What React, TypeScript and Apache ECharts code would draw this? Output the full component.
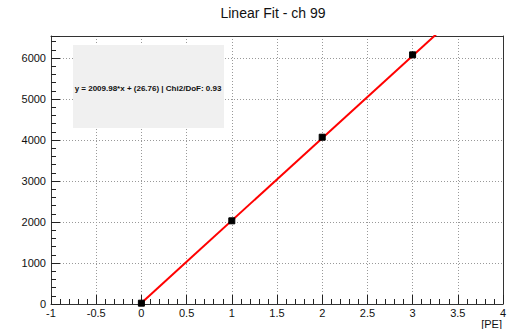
import React, { useEffect, useRef } from "react";
import * as echarts from "echarts";

const pointsX = [0, 1, 2, 3];
const pointsY = [20, 2030, 4070, 6080];
const pointsErr = [60, 70, 75, 80];
const fitSlope = 2009.98;
const fitIntercept = 26.76;
const fitXRange = [0, 3.4];
const titleText = "Linear Fit - ch 99";
const fitLabel = "y = 2009.98*x + (26.76) | Chi2/DoF: 0.93";
const xAxisName = "[PE]";

export default function App() {
  const ref = useRef<HTMLDivElement>(null);
  useEffect(() => {
    if (!ref.current) return;
    const chart = echarts.init(ref.current, null, { renderer: "svg" });
    const font = "Liberation Sans";
    const fitData = fitXRange.map((x) => [x, fitSlope * x + fitIntercept]);
    const pts = pointsX.map((x, i) => [x, pointsY[i], pointsErr[i]]);
    const frameAxis = {
      type: "value",
      axisLine: { show: true, onZero: false, lineStyle: { color: "#333", width: 1 } },
      axisTick: { show: false },
      axisLabel: { show: false },
      splitLine: { show: false },
    };
    chart.setOption({
      animation: false,
      backgroundColor: "#ffffff",
      textStyle: { fontFamily: font },
      grid: { left: 51, right: 13, top: 36, bottom: 25 },
      xAxis: [
        {
          type: "value",
          min: -1,
          max: 4,
          interval: 0.5,
          axisLine: { show: true, onZero: false, lineStyle: { color: "#333", width: 1 } },
          axisTick: { show: true, inside: true, length: 9, lineStyle: { color: "#222", width: 1 } },
          minorTick: { show: true, splitNumber: 5, length: 5, lineStyle: { color: "#222", width: 1 } },
          axisLabel: {
            color: "#111",
            fontSize: 11,
            fontFamily: font,
            margin: 3,
            formatter: (v: number) => String(v),
          },
          splitLine: { show: true, lineStyle: { color: "#999", type: [1, 2], width: 1 } },
        },
        { ...frameAxis, position: "top", min: -1, max: 4 },
      ],
      yAxis: [
        {
          type: "value",
          min: 0,
          max: 6540,
          interval: 1000,
          axisLine: { show: true, onZero: false, lineStyle: { color: "#333", width: 1 } },
          axisTick: { show: true, inside: true, length: 9, lineStyle: { color: "#222", width: 1 } },
          minorTick: { show: true, splitNumber: 5, length: 5, lineStyle: { color: "#222", width: 1 } },
          axisLabel: {
            color: "#111",
            fontSize: 11,
            fontFamily: font,
            margin: 5,
            showMaxLabel: false,
            formatter: (v: number) => String(v),
          },
          splitLine: { show: true, lineStyle: { color: "#999", type: [1, 2], width: 1 } },
        },
        { ...frameAxis, position: "right", min: 0, max: 6540 },
      ],
      graphic: [
        {
          type: "text",
          x: 273,
          y: 6,
          style: {
            text: titleText,
            fontFamily: font,
            fontSize: 14,
            fill: "#111",
            textAlign: "center",
          },
        },
        {
          type: "rect",
          shape: { x: 73, y: 45, width: 151, height: 83 },
          style: { fill: "#f0f0f0" },
          z: 10,
        },
        {
          type: "text",
          x: 148,
          y: 88,
          z: 11,
          style: {
            text: fitLabel,
            fontFamily: font,
            fontSize: 8,
            fontWeight: "bold",
            fill: "#111",
            textAlign: "center",
            textVerticalAlign: "middle",
          },
        },
        {
          type: "text",
          x: 502,
          y: 318,
          style: {
            text: xAxisName,
            fontFamily: font,
            fontSize: 11,
            fill: "#111",
            textAlign: "right",
          },
        },
      ],
      series: [
        {
          type: "line",
          data: fitData,
          showSymbol: false,
          symbol: "none",
          clip: true,
          lineStyle: { color: "#ff0000", width: 2 },
          z: 3,
        },
        {
          type: "custom",
          data: pts,
          z: 4,
          renderItem: (params: any, api: any) => {
            const x = api.value(0);
            const y = api.value(1);
            const e = api.value(2);
            const c = api.coord([x, y]);
            const top = api.coord([x, y + e]);
            const bot = api.coord([x, y - e]);
            return {
              type: "group",
              children: [
                {
                  type: "line",
                  shape: { x1: c[0], y1: top[1], x2: c[0], y2: bot[1] },
                  style: { stroke: "#000", lineWidth: 1 },
                },
                {
                  type: "rect",
                  shape: { x: c[0] - 3, y: c[1] - 3, width: 6, height: 6 },
                  style: { fill: "#000", stroke: "#000" },
                },
              ],
            };
          },
        },
      ],
    });
    return () => chart.dispose();
  }, []);
  return <div ref={ref} style={{ width: 516, height: 329, position: "absolute", left: 0, top: 0 }} />;
}
